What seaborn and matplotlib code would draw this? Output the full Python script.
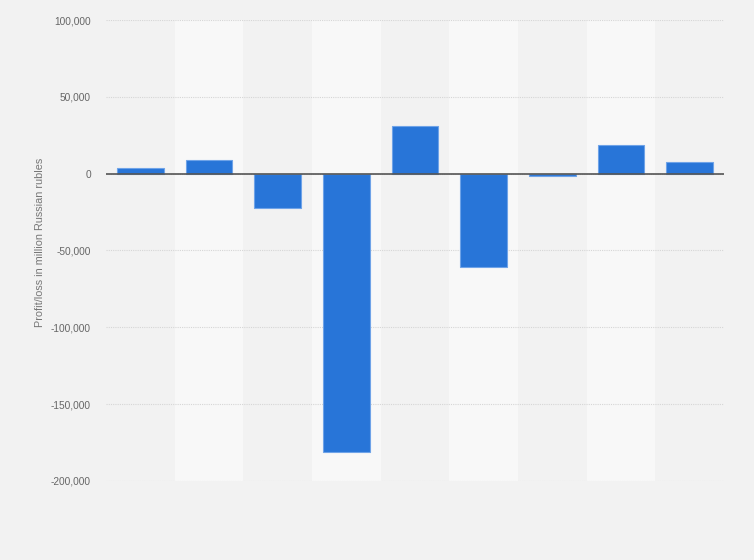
import matplotlib
matplotlib.use("Agg")
import matplotlib.pyplot as plt
import seaborn as sns
import pandas as pd
from matplotlib.ticker import FuncFormatter

categories = ["2012", "2013", "2014", "2015", "2016", "2017", "2018", "2019", "2020"]
values = [3400, 8800, -22600, -181300, 30900, -60800, -1800, 18500, 7500]
y_ticks = [100000, 50000, 0, -50000, -100000, -150000, -200000]
y_label = "Profit/loss in million Russian rubles"

df = pd.DataFrame({"category": categories, "value": values})

sns.set_theme(style="white")
plt.rcParams['font.family'] = ['Liberation Sans', 'DejaVu Sans']

fig = plt.figure(figsize=(7.54, 5.6), dpi=100)
fig.patch.set_facecolor("#f2f2f2")
ax = fig.add_axes([106/754, 1-481/560, 618/754, 461/560])
ax.set_facecolor("#f2f2f2")

for i in range(len(categories)):
    if i % 2 == 1:
        ax.axvspan(i - 0.5, i + 0.5, color="#f8f8f8", zorder=0, lw=0)

sns.barplot(data=df, x="category", y="value", ax=ax, color="#2875d8",
            width=0.68, saturation=1, edgecolor="#6fa3e8", linewidth=0.8, zorder=3)

ax.set_xlim(-0.5, len(categories) - 0.5)
ax.set_ylim(-200000, 100000)
ax.set_yticks(y_ticks)
ax.yaxis.set_major_formatter(FuncFormatter(lambda v, p: f"{int(v):,}"))
ax.grid(axis="y", color="#d6d6d6", linestyle=(0, (1, 1)), linewidth=0.8, zorder=1)
ax.axhline(0, color="#555555", linewidth=1.2, zorder=4)
ax.set_xticks(range(len(categories)))
ax.set_xticklabels([])
ax.tick_params(axis="x", length=0)
ax.tick_params(axis="y", length=0, pad=10.8, labelsize=7.3, labelcolor="#666666")
ax.set_xlabel("")
ax.set_ylabel(y_label, fontsize=7.8, color="#777777", va="center")
ax.yaxis.set_label_coords(-0.107, 0.518)
for s in ax.spines.values():
    s.set_visible(False)

fig.savefig("out.png", dpi=100, facecolor=fig.get_facecolor())
